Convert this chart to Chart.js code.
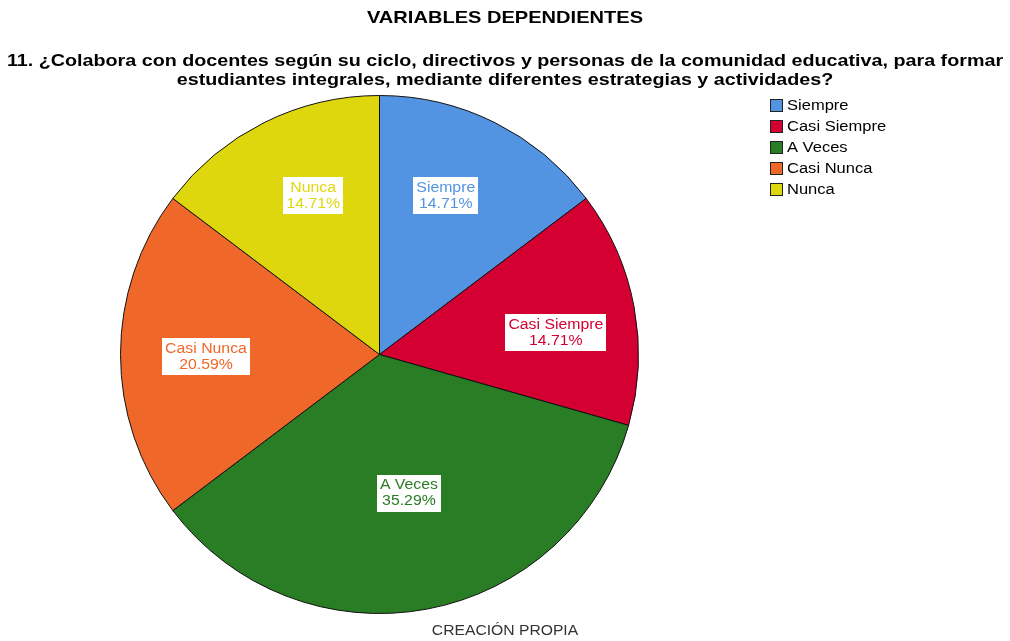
<!DOCTYPE html>
<html>
<head>
<meta charset="utf-8">
<script src="https://cdn.jsdelivr.net/npm/chart.js"></script>
<style>
html,body{margin:0;padding:0;background:#fff;}
#wrap{position:relative;width:1010px;height:641px;}
canvas{display:block;}
</style>
</head>
<body>
<div id="wrap"><canvas id="c" width="1010" height="641"></canvas></div>
<script>
const categories = ["Siempre", "Casi Siempre", "A Veces", "Casi Nunca", "Nunca"];
const counts = [5, 5, 12, 7, 5];
const percentLabels = ["14.71%", "14.71%", "35.29%", "20.59%", "14.71%"];
const colors = ["#5294E2", "#D50032", "#297D24", "#EF6829", "#DFD70E"];
const titleText = "VARIABLES DEPENDIENTES";
const subtitleLines = ["11. ¿Colabora con docentes según su ciclo, directivos y personas de la comunidad educativa, para formar", "estudiantes integrales, mediante diferentes estrategias y actividades?"];
const footerText = "CREACIÓN PROPIA";

const FONT = "'Liberation Sans', Arial, sans-serif";
const labelRadiusFactor = [0.664, 0.686, 0.547, 0.67, 0.664];
const labelAngleShift = [-3.8, 3.6, -1.4, -0.8, 3.8];

function stretchText(ctx, text, x, y, k, align) {
  ctx.save();
  ctx.translate(x, y);
  ctx.scale(k, 1);
  ctx.textAlign = align || 'center';
  ctx.fillText(text, 0, 0);
  ctx.restore();
}

const decor = {
  id: 'decor',
  afterDraw(chart) {
    const ctx = chart.ctx;
    ctx.save();
    ctx.fillStyle = '#000';
    ctx.textBaseline = 'middle';
    ctx.font = "bold 17px " + FONT;
    stretchText(ctx, titleText, 505, 18, 1.18);
    ctx.font = "bold 17px " + FONT;
    stretchText(ctx, subtitleLines[0], 505, 61, 1.16);
    stretchText(ctx, subtitleLines[1], 505, 80, 1.16);
    ctx.font = "14px " + FONT;
    ctx.fillStyle = '#333';
    stretchText(ctx, footerText, 505, 631, 1.12);

    const meta = chart.getDatasetMeta(0);
    ctx.font = "14px " + FONT;
    const kL = 1.13;
    meta.data.forEach((arc, i) => {
      const p = arc.getProps(['x','y','startAngle','endAngle','outerRadius'], true);
      const mid = (p.startAngle + p.endAngle) / 2 + labelAngleShift[i] * Math.PI / 180;
      const r = p.outerRadius * labelRadiusFactor[i];
      const cx = p.x + Math.cos(mid) * r;
      const cy = p.y + Math.sin(mid) * r;
      const l1 = categories[i], l2 = percentLabels[i];
      const w = Math.max(ctx.measureText(l1).width, ctx.measureText(l2).width) * kL + 6;
      const h = 37;
      ctx.fillStyle = '#fff';
      ctx.fillRect(Math.round(cx - w/2), Math.round(cy - h/2), Math.round(w), h);
      ctx.fillStyle = colors[i];
      stretchText(ctx, l1, cx, cy - 7.5, kL);
      stretchText(ctx, l2, cx, cy + 8, kL);
    });

    ctx.font = "14px " + FONT;
    categories.forEach((c, i) => {
      const y = 99 + i * 21;
      ctx.fillStyle = colors[i];
      ctx.fillRect(770, y, 13, 13);
      ctx.strokeStyle = '#222';
      ctx.lineWidth = 1;
      ctx.strokeRect(770.5, y + 0.5, 12, 12);
      ctx.fillStyle = '#000';
      stretchText(ctx, c, 787, y + 7, 1.18, 'left');
    });
    ctx.restore();
  }
};

new Chart(document.getElementById('c'), {
  type: 'pie',
  data: {
    labels: categories,
    datasets: [{
      data: counts,
      backgroundColor: colors,
      borderColor: '#111',
      borderWidth: 1
    }]
  },
  options: {
    responsive: false,
    animation: false,
    layout: { padding: { left: 120, right: 371, top: 95, bottom: 27 } },
    plugins: {
      legend: { display: false },
      tooltip: { enabled: false },
      title: { display: false }
    }
  },
  plugins: [decor]
});
</script>
</body>
</html>
